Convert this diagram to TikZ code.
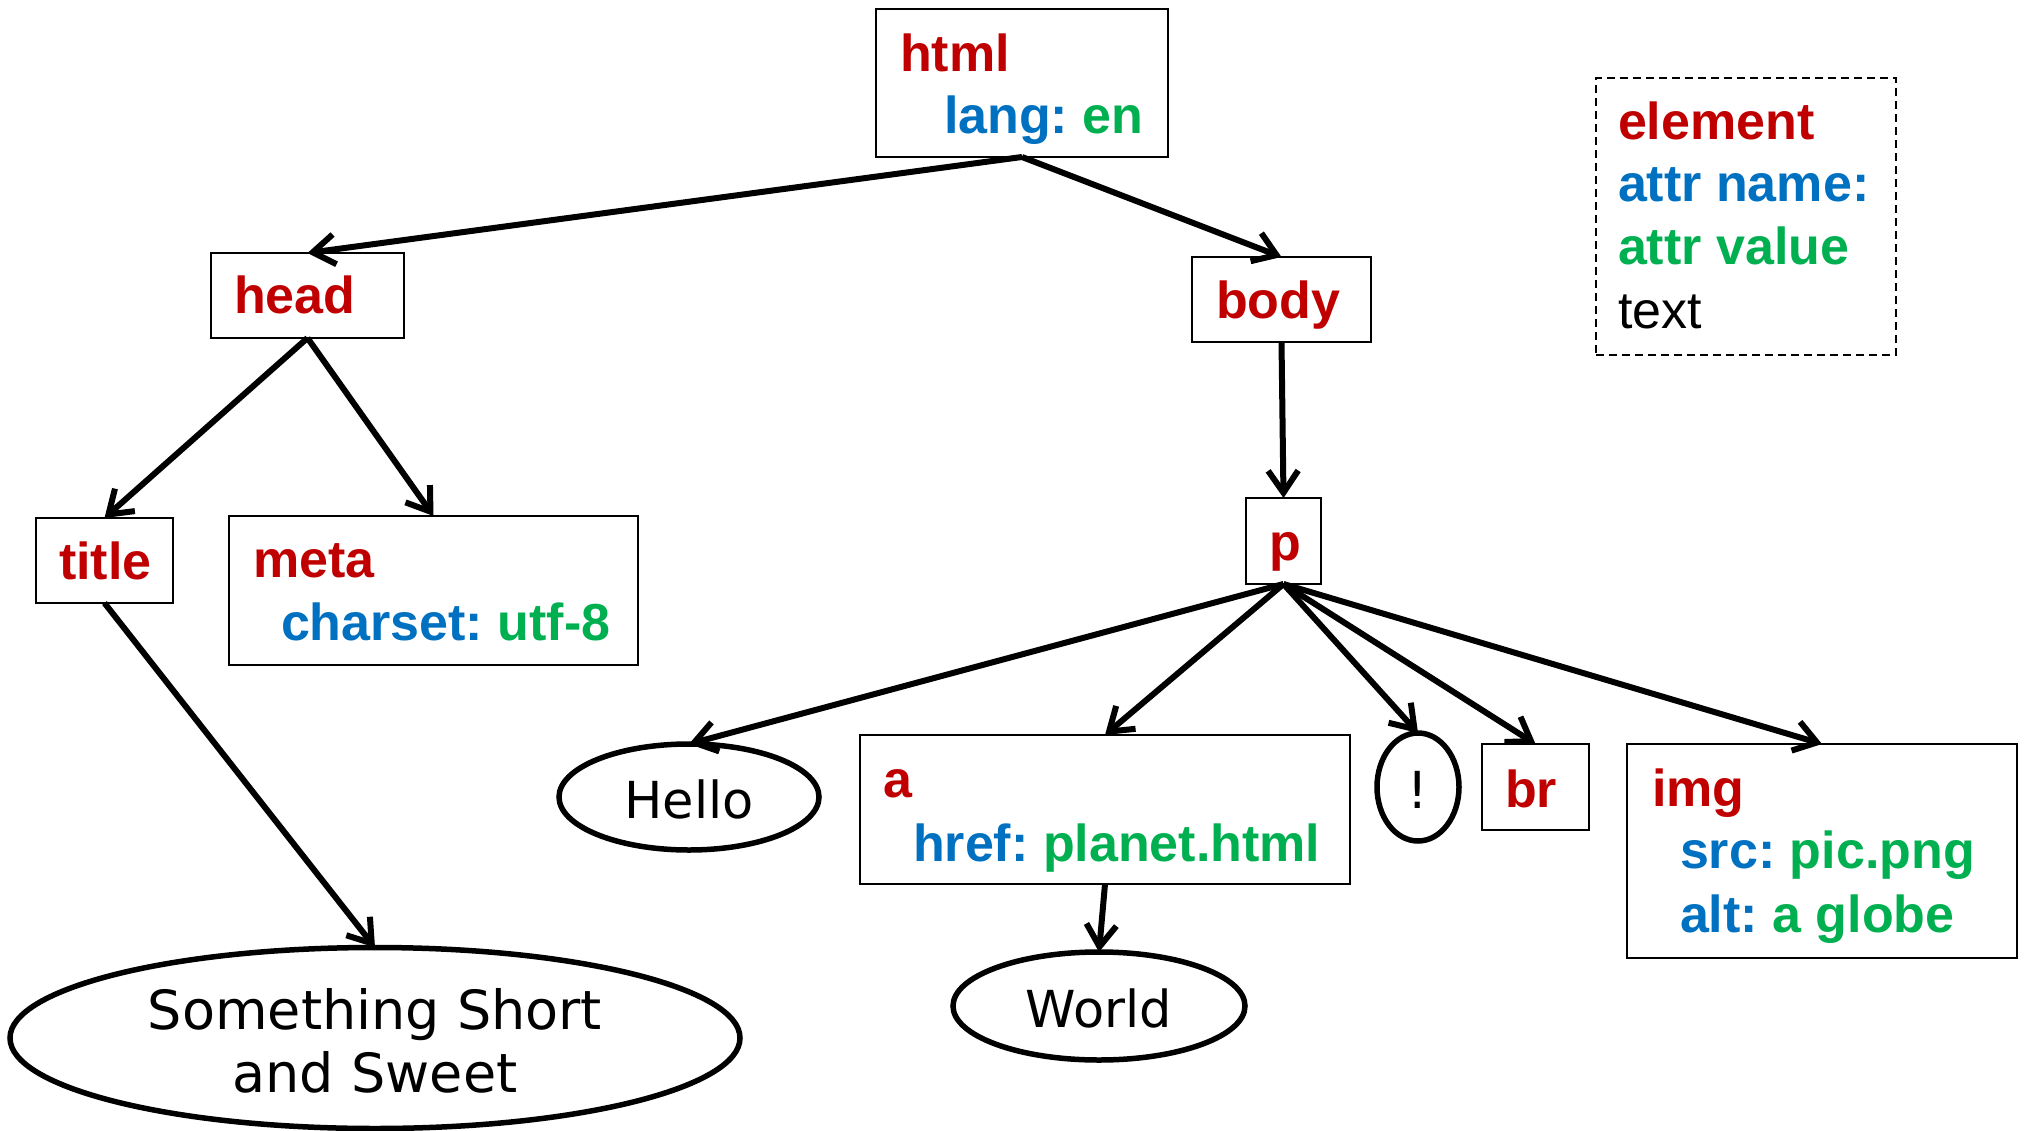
\documentclass[tikz,border=0pt]{standalone}
\usepackage{fontspec}
\setmainfont{Liberation Sans}
\newfontfamily\ovalfont{DejaVu Sans}
\usetikzlibrary{shapes.geometric,arrows.meta}
\definecolor{elred}{HTML}{C00000}
\definecolor{attrblue}{HTML}{0070C0}
\definecolor{valgreen}{HTML}{00B050}
\frenchspacing
\tikzset{
  elbox/.style={draw, line width=2pt, inner sep=0pt, outer sep=0pt, fill=white},
  txtnode/.style={anchor=base west, inner sep=0pt, outer sep=0pt,
    font=\fontsize{52}{62}\selectfont},
  tagtxt/.style={txtnode, font=\fontsize{52}{62}\selectfont\bfseries, text=elred},
  attrtxt/.style={txtnode, font=\fontsize{52}{62}\selectfont\bfseries},
  oval/.style={ellipse, draw, line width=5.5pt, inner sep=0pt, outer sep=0pt},
  ovaltxt/.style={anchor=base, inner sep=0pt, outer sep=0pt,
    font=\ovalfont\fontsize{51}{63}\selectfont},
  conn/.style={-{Straight Barb[length=22pt,width=30pt]}, line width=6pt},
}
\newcommand{\attr}[2]{\textcolor{attrblue}{#1} \textcolor{valgreen}{#2}}
\begin{document}
\begin{tikzpicture}[x=1pt,y=-1pt]
\useasboundingbox (0,0) rectangle (2025,1131);

% element boxes
\node[elbox, minimum width=292pt, minimum height=148pt] (html) at (1022,83) {};
\node[elbox, minimum width=193pt, minimum height=85pt] (head) at (307.5,295.5) {};
\node[elbox, minimum width=179pt, minimum height=85pt] (body) at (1281.5,299.5) {};
\node[elbox, minimum width=137pt, minimum height=85pt] (title) at (104.5,560.5) {};
\node[elbox, minimum width=409pt, minimum height=149pt] (meta) at (433.5,590.5) {};
\node[elbox, minimum width=75pt, minimum height=86pt] (p) at (1283.5,541) {};
\node[elbox, minimum width=490pt, minimum height=149pt] (a) at (1105,809.5) {};
\node[elbox, minimum width=107pt, minimum height=86pt] (br) at (1535.5,787) {};
\node[elbox, minimum width=390pt, minimum height=214pt] (img) at (1822,851) {};

% text nodes
\node[oval, minimum width=260pt, minimum height=106pt] (hello) at (689,797) {};
\node[oval, minimum width=292pt, minimum height=108pt] (world) at (1099,1006) {};
\node[oval, minimum width=82pt, minimum height=108pt] (excl) at (1418,787) {};
\node[oval, minimum width=730pt, minimum height=181pt] (sweet) at (375,1038) {};

% legend
\node[draw, dashed, dash pattern=on 8pt off 5pt, line width=2pt, inner sep=0pt,
  minimum width=300pt, minimum height=277pt] (legend) at (1746,216.5) {};
\node[tagtxt] (lg-el) at (1618,140) {element};
\node[attrtxt, text=attrblue] (lg-name) at (1618,202) {attr name:};
\node[attrtxt, text=valgreen] (lg-val) at (1618,265) {attr value};
\node[txtnode] (lg-text) at (1618,329) {text};

% labels inside the boxes
\node[tagtxt] (html-t) at (900,72) {html};
\node[attrtxt] (html-a) at (944,134) {\attr{lang:}{en}};
\node[tagtxt] (head-t) at (234,314) {head};
\node[tagtxt] (body-t) at (1216,319) {body};
\node[tagtxt] (title-t) at (59,579) {title};
\node[tagtxt] (meta-t) at (253,577) {meta};
\node[attrtxt] (meta-a) at (281,640) {\attr{charset:}{utf-8}};
\node[tagtxt] (p-t) at (1269,560) {p};
\node[tagtxt] (a-t) at (883,797) {a};
\node[attrtxt] (a-a) at (913,861) {\attr{href:}{planet.html}};
\node[tagtxt] (br-t) at (1505,807) {br};
\node[tagtxt] (img-t) at (1652,806) {img};
\node[attrtxt] (img-a1) at (1680,868) {\attr{src:}{pic.png}};
\node[attrtxt] (img-a2) at (1680,932) {\attr{alt:}{a globe}};

% labels inside the ovals
\node[ovaltxt] (hello-t) at (689,818) {Hello};
\node[ovaltxt] (world-t) at (1099,1027) {World};
\node[ovaltxt] (excl-t) at (1418,808) {!};
\node[ovaltxt, font=\ovalfont\fontsize{54}{63}\selectfont] (sweet-t1) at (375,1029) {Something Short};
\node[ovaltxt, font=\ovalfont\fontsize{54}{63}\selectfont] (sweet-t2) at (375,1092) {and Sweet};

% tree edges
\draw[conn] (html.south) -- (head.north);
\draw[conn] (html.south) -- (body.north);
\draw[conn] (head.south) -- (title.north);
\draw[conn] (head.south) -- (meta.north);
\draw[conn] (title.south) -- (sweet.north);
\draw[conn] (body.south) -- (p.north);
\draw[conn] (p.south) -- (hello.north);
\draw[conn] (p.south) -- (a.north);
\draw[conn] (p.south) -- (excl.north);
\draw[conn] (p.south) -- (br.north);
\draw[conn] (p.south) -- (img.north);
\draw[conn] (a.south) -- (world.north);
\end{tikzpicture}
\end{document}
